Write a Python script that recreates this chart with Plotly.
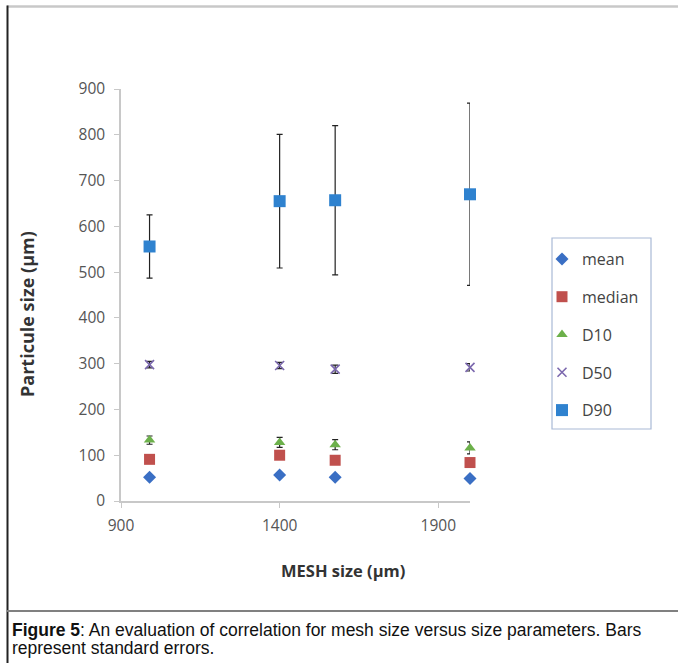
import plotly.graph_objects as go

mesh = [990, 1400, 1575, 2000]
mean = [52, 57, 52, 49]
median = [91, 100, 89, 84]
d10 = [133, 128, 123, 116]
d50 = [298, 296, 288, 292]
d90 = [556, 655, 657, 670]
err_mean = [2, 3, 2, 2]
err_median = [3, 8, 3, 3]
err_d10 = [9, 11, 11, 13]
err_d50 = [7, 7, 9, 8]
err_d90 = [69, 146, 163, 199]

names = ["mean", "median", "D10", "D50", "D90"]
series = [mean, median, d10, d50, d90]
errors = [err_mean, err_median, err_d10, err_d50, err_d90]
symbols = ["diamond", "square", "triangle-up", "x-thin", "square"]
colors = ["#3a6fc4", "#c0504d", "#6cb04a", "#7b68ae", "#2f82cf"]
sizes = [10, 11, 10, 9, 12]

W, H = 678, 663
L, R, T, B = 121, 470, 89, 501

fig = go.Figure()
for n, s, e, sym, c, sz in zip(names, series, errors, symbols, colors, sizes):
    marker = dict(symbol=sym, color=c, size=sz)
    if sym == "x-thin":
        marker["line"] = dict(color=c, width=1.6)
    else:
        marker["line"] = dict(width=0)
    fig.add_trace(go.Scatter(
        x=mesh, y=s, mode="markers", name=n, legendgroup=n,
        marker=marker, cliponaxis=False,
        error_y=dict(type="data", array=e, visible=True, color="#222222",
                     thickness=1.2, width=3),
    ))

def px(x):
    return (x - L) / (R - L)

def py(y):
    return (B - y) / (B - T)

shapes = [
    dict(type="line", xref="paper", yref="paper", x0=px(7), x1=px(678), y0=py(6.5), y1=py(6.5),
         line=dict(color="#c8c8c8", width=2.5)),
    dict(type="line", xref="paper", yref="paper", x0=px(7.5), x1=px(7.5), y0=py(5.5), y1=py(663),
         line=dict(color="#222222", width=2)),
    dict(type="line", xref="paper", yref="paper", x0=px(7), x1=px(678), y0=py(611), y1=py(611),
         line=dict(color="#808080", width=2)),
    dict(type="rect", xref="paper", yref="paper", x0=px(552), x1=px(651), y0=py(238), y1=py(429),
         line=dict(color="#a9b9d6", width=1.2)),
]

annotations = [
    dict(text="MESH size (μm)", xref="paper", yref="paper", x=px(343), y=py(570),
         showarrow=False, xanchor="center", yanchor="middle",
         font=dict(family="Open Sans", size=16.5, color="#333333", weight="bold")),
    dict(text="Particule size (μm)", xref="paper", yref="paper", x=px(27), y=py(314),
         showarrow=False, xanchor="center", yanchor="middle", textangle=-90,
         font=dict(family="Open Sans", size=18, color="#333333", weight="bold")),
    dict(text="<b>Figure 5</b>: An evaluation of correlation for mesh size versus size parameters. Bars",
         xref="paper", yref="paper", x=px(10), y=py(630), showarrow=False,
         xanchor="left", yanchor="middle", align="left",
         font=dict(family="Liberation Sans", size=17.5, color="#111111")),
    dict(text="represent standard errors.",
         xref="paper", yref="paper", x=px(10), y=py(648), showarrow=False,
         xanchor="left", yanchor="middle", align="left",
         font=dict(family="Liberation Sans", size=17.5, color="#111111")),
]

fig.update_layout(
    width=W, height=H,
    margin=dict(l=L, r=W - R, t=T, b=H - B),
    paper_bgcolor="white", plot_bgcolor="white",
    showlegend=True,
    legend=dict(x=px(542), y=py(242), xanchor="left", yanchor="top",
                bgcolor="rgba(0,0,0,0)", borderwidth=0,
                font=dict(family="Open Sans", size=16, color="#444444"),
                traceorder="grouped", tracegroupgap=14, itemwidth=30),
    shapes=shapes, annotations=annotations,
    xaxis=dict(range=[900, 2000], tickvals=[900, 1400, 1900], showgrid=False, zeroline=False,
               showline=True, linecolor="#c8c8c8", linewidth=1.5,
               ticks="outside", ticklen=5, tickcolor="#c8c8c8", ticklabelstandoff=5,
               tickfont=dict(family="Open Sans", size=15.5, color="#555555")),
    yaxis=dict(range=[0, 900], dtick=100, showgrid=False, zeroline=False,
               showline=True, linecolor="#c8c8c8", linewidth=1.5,
               ticks="outside", ticklen=5, tickcolor="#c8c8c8", ticklabelstandoff=6,
               tickfont=dict(family="Open Sans", size=15.5, color="#555555")),
)

fig.write_html("out.html", config={"displayModeBar": False},
               post_script="document.body.style.margin='0';document.body.style.overflow='hidden';")
